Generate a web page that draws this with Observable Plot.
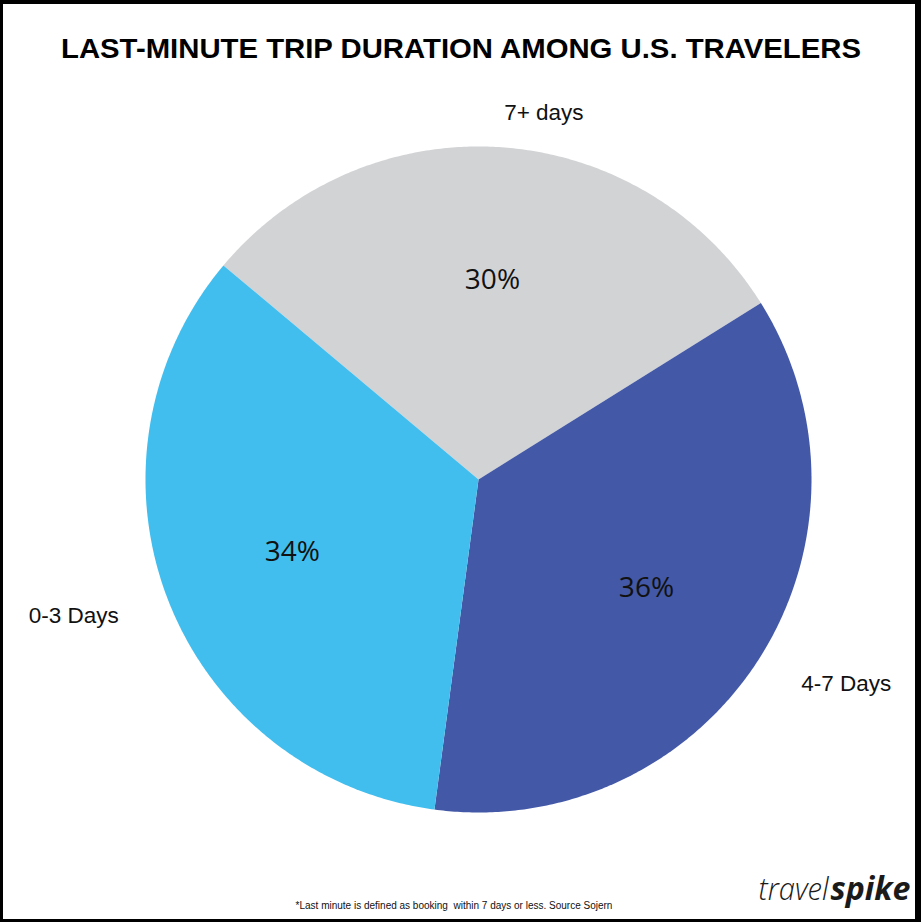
<!DOCTYPE html>
<html>
<head>
<meta charset="utf-8">
<script src="https://cdn.jsdelivr.net/npm/d3@7"></script>
<script src="https://cdn.jsdelivr.net/npm/@observablehq/plot@0.6"></script>
<style>
  html, body { margin: 0; padding: 0; background: #fff; }
  #wrap { position: relative; width: 921px; height: 922px; overflow: hidden; }
  #frame { position: absolute; left: 0; top: 0; width: 921px; height: 922px; box-sizing: border-box;
           border-style: solid; border-color: #000; border-width: 4px 6px 3px 3px; pointer-events: none; }
  #chart svg { display: block; }
</style>
</head>
<body>
<div id="wrap"><div id="chart"></div><div id="frame"></div></div>
<script>
// ---- data ----
const title = "LAST-MINUTE TRIP DURATION AMONG U.S. TRAVELERS";
const categories = ["7+ days", "4-7 Days", "0-3 Days"];
const shares = [30, 36, 34];
const footnote = "*Last minute is defined as booking  within 7 days or less. Source Sojern";
const brandLight = "travel";
const brandBold = "spike";

// ---- style ----
const sliceColors = ["#D2D3D5", "#4358A6", "#41BEEE"];
const startDeg = -50;

const data = categories.map((c, i) => ({name: c, share: shares[i], color: sliceColors[i]}));
const a0 = startDeg * Math.PI / 180;
const arcs = d3.pie().sort(null).value(d => d.share).startAngle(a0).endAngle(a0 + 2 * Math.PI)(data);

// polygon points for each slice (center + arc), in unit-circle data space
const slices = arcs.map(a => {
  const pts = [{x: 0, y: 0}];
  const n = Math.max(2, Math.ceil((a.endAngle - a.startAngle) / (Math.PI / 360)));
  for (let k = 0; k <= n; k++) {
    const t = a.startAngle + (a.endAngle - a.startAngle) * k / n;
    pts.push({x: Math.sin(t), y: Math.cos(t)});
  }
  pts.push({x: 0, y: 0});
  return {arc: a, pts};
});

const inner = arcs.map(a => {
  const m = (a.startAngle + a.endAngle) / 2;
  return {x: 0.6 * Math.sin(m), y: 0.6 * Math.cos(m), label: a.data.share + "%"};
});
const outer = arcs.map(a => {
  const m = (a.startAngle + a.endAngle) / 2;
  const s = Math.sin(m), c = Math.cos(m);
  const r = 1.1 + 0.063 * Math.abs(s);
  return {x: r * s, y: r * c + 0.012 * Math.abs(s), label: a.data.name, anchor: s >= 0 ? "start" : "end"};
});

const marks = [];
for (const sl of slices) {
  marks.push(Plot.line(sl.pts, {x: "x", y: "y", fill: sl.arc.data.color, stroke: "none", curve: "linear"}));
}
marks.push(Plot.text(inner, {x: "x", y: "y", text: "label", fontSize: 28, fontFamily: "'Open Sans', 'Noto Sans', sans-serif", fill: "#111", textAnchor: "middle"}));
for (const anchor of ["start", "end"]) {
  marks.push(Plot.text(outer.filter(d => d.anchor === anchor), {x: "x", y: "y", text: "label", textAnchor: anchor, fontSize: 22.5, fontFamily: "'Liberation Sans', Arial, sans-serif", fill: "#111"}));
}
marks.push(Plot.text([title], {frameAnchor: "top", dy: 57, lineAnchor: "bottom", fontSize: 28.5, fontWeight: "bold", fontFamily: "'Liberation Sans', Arial, sans-serif", fill: "#000"}));
marks.push(Plot.text([footnote], {frameAnchor: "bottom", dx: -7, dy: -14, lineAnchor: "bottom", fontSize: 10, fontFamily: "'Liberation Sans', Arial, sans-serif", fill: "#111"}));
marks.push(Plot.text([brandLight], {frameAnchor: "bottom-right", dx: -93, dy: -23, lineAnchor: "bottom", textAnchor: "end", fontSize: 32, fontStyle: "italic", fontWeight: 300, fontFamily: "'Open Sans', 'Noto Sans', sans-serif", fill: "#1a1a1a"}));
marks.push(Plot.text([brandBold], {frameAnchor: "bottom-right", dx: -91, dy: -23, lineAnchor: "bottom", textAnchor: "start", fontSize: 32, fontStyle: "italic", fontWeight: 700, fontFamily: "'Open Sans', 'Noto Sans', sans-serif", fill: "#1a1a1a"}));

const chart = Plot.plot({
  width: 921,
  height: 922,
  margin: 0,
  x: {domain: [-1, 1], range: [145, 811], axis: null},
  y: {domain: [-1, 1], range: [812, 146], axis: null},
  style: {background: "#fff", overflow: "visible"},
  marks
});

// fit widths of title and logo to the reference's proportions
const fits = new Map([[title, 800], [brandLight, 70], [brandBold, 80]]);
chart.querySelectorAll("text").forEach(t => {
  const w = fits.get(t.textContent);
  if (w) { t.setAttribute("textLength", w); t.setAttribute("lengthAdjust", "spacingAndGlyphs"); }
});
document.getElementById("chart").appendChild(chart);
</script>
</body>
</html>
